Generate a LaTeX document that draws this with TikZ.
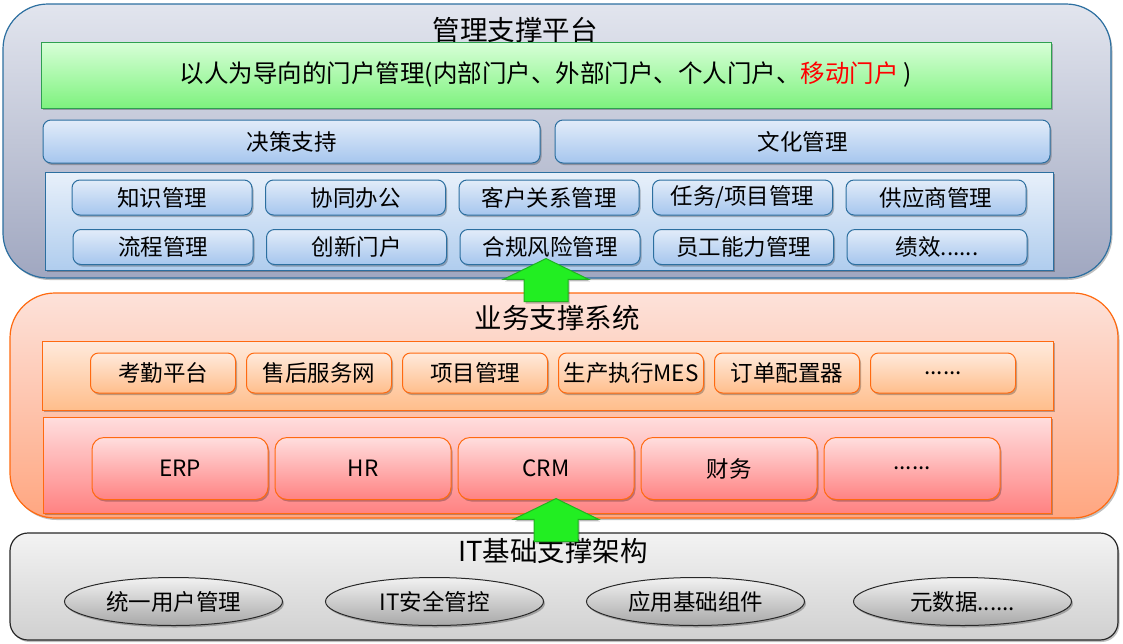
\documentclass[tikz,border=0pt]{standalone}
\usepackage{fontspec}
\setmainfont{Noto Sans CJK SC}
\usetikzlibrary{positioning,shapes.geometric,shapes.arrows,shadows}
\definecolor{platline}{RGB}{44,111,160}
\definecolor{plattop}{RGB}{226,229,238}
\definecolor{platbot}{RGB}{160,167,192}
\definecolor{portalline}{RGB}{46,160,80}
\definecolor{portaltop}{RGB}{216,255,216}
\definecolor{portalbot}{RGB}{126,242,126}
\definecolor{bluetop}{RGB}{226,236,249}
\definecolor{bluebot}{RGB}{166,198,238}
\definecolor{paneltop}{RGB}{232,240,250}
\definecolor{panelbot}{RGB}{176,205,238}
\definecolor{orangeline}{RGB}{255,106,16}
\definecolor{biztop}{RGB}{253,226,218}
\definecolor{bizbot}{RGB}{255,166,128}
\definecolor{peachtop}{RGB}{255,234,220}
\definecolor{peachbot}{RGB}{255,190,140}
\definecolor{pinktop}{RGB}{255,222,222}
\definecolor{pinkbot}{RGB}{255,130,130}
\definecolor{baseline}{RGB}{40,40,40}
\definecolor{basetop}{RGB}{243,243,243}
\definecolor{basebot}{RGB}{208,208,208}
\definecolor{elltop}{RGB}{242,242,242}
\definecolor{ellbot}{RGB}{168,168,168}
\definecolor{upfill}{RGB}{34,238,34}
\definecolor{upline}{RGB}{30,180,30}
\definecolor{warn}{RGB}{255,0,0}
\tikzset{
  every picture/.style={x=1pt, y=-1pt, line width=1pt},
  node distance=12pt,
  soft/.style={drop shadow={shadow xshift=1.5pt, shadow yshift=-2pt, opacity=.25, fill=black}},
  layer/.style={draw, soft, rounded corners=45pt, line width=1.2pt, inner sep=0pt},
  panel/.style={draw, soft, inner sep=0pt},
  box/.style={draw, soft, rounded corners=8pt, inner sep=0pt, align=center, font=\fontsize{22.5}{26}\selectfont},
  title/.style={inner sep=0pt, font=\fontsize{27.5}{30}\selectfont},
  plat/.style={layer, draw=platline, top color=plattop, bottom color=platbot},
  blueitem/.style={box, draw=platline, top color=bluetop, bottom color=bluebot},
  biz/.style={layer, draw=orangeline, top color=biztop, bottom color=bizbot},
  peachitem/.style={box, draw=orangeline, top color=peachtop, bottom color=peachbot, minimum width=145pt, minimum height=40pt},
  pinkitem/.style={box, draw=orangeline, top color=pinktop, bottom color=pinkbot, rounded corners=12pt, minimum width=176pt, minimum height=62pt},
  grayitem/.style={ellipse, draw=baseline, soft, top color=elltop, bottom color=ellbot, inner sep=0pt, minimum width=218pt, minimum height=48pt, font=\fontsize{22.5}{26}\selectfont},
  uparrow/.style={single arrow, rotate=90, draw=upline, fill=upfill, soft, anchor=tip, inner xsep=0pt, inner ysep=21.5pt,
    minimum height=43pt, minimum width=84pt, single arrow head extend=20.5pt, single arrow tip angle=128},
}

\begin{document}
\begin{tikzpicture}
  \useasboundingbox (0,0) rectangle (1123,643);
  % top layer: management platform
  \node[plat, minimum width=1108pt, minimum height=274pt] (mgmt) at (557,141) {};
  \node[title] (mgmtT) at (515,30) {管理支撑平台};
  \node[panel, draw=portalline, top color=portaltop, bottom color=portalbot, minimum width=1010pt, minimum height=66pt, font=\fontsize{24.5}{28}\selectfont] (portal) at (546,75) {以人为导向的门户管理(内部门户、外部门户、个人门户、{\color{warn}移动门户} )};
  \node[blueitem, minimum width=497pt, minimum height=43pt] (decide) at (291.5,141.5) {决策支持};
  \node[blueitem, minimum width=495pt, minimum height=43pt] (culture) at (802.5,141.5) {文化管理};
  \node[panel, draw=platline, top color=paneltop, bottom color=panelbot, minimum width=1008pt, minimum height=98pt] (apps) at (549,221) {};
  \begin{scope}[every node/.append style={blueitem, minimum width=180pt, minimum height=35pt}, node distance=12.5pt]
    \node (know) at (162,197.5) {知识管理};
    \node[right=of know] (collab) {协同办公};
    \node[right=of collab] (crmm) {客户关系管理};
    \node[right=of crmm] (task) {任务/项目管理};
    \node[right=of task] (supply) {供应商管理};
    \node (flow) at (163,247) {流程管理};
    \node[right=of flow] (innov) {创新门户};
    \node[right=of innov] (risk) {合规风险管理};
    \node[right=of risk] (skill) {员工能力管理};
    \node[right=of skill] (perf) {绩效......};
  \end{scope}

  % middle layer: business systems
  \node[biz, minimum width=1108pt, minimum height=225pt] (bizsys) at (564,405.5) {};
  \node[title] (bizT) at (557,318) {业务支撑系统};
  \node[panel, draw=orangeline, top color=peachtop, bottom color=peachbot, minimum width=1011pt, minimum height=69pt] (front) at (547.5,375.5) {};
  \node[peachitem] (attend) at (163,373) {考勤平台};
  \node[peachitem, right=10pt of attend] (service) {售后服务网};
  \node[peachitem, right=10pt of service] (proj) {项目管理};
  \node[peachitem, right=10pt of proj] (mes) {生产执行MES};
  \node[peachitem, right=10pt of mes] (order) {订单配置器};
  \node[peachitem, right=10pt of order] (more1) {......};
  \node[panel, draw=orangeline, top color=pinktop, bottom color=pinkbot, minimum width=1008pt, minimum height=96pt] (core) at (547,465) {};
  \node[pinkitem] (erp) at (180,468.5) {ERP};
  \node[pinkitem, right=6pt of erp] (hr) {HR};
  \node[pinkitem, right=6pt of hr] (crm) {CRM};
  \node[pinkitem, right=6pt of crm] (fin) {财务};
  \node[pinkitem, right=6pt of fin] (more2) {......};

  % bottom layer: IT infrastructure
  \node[layer, rounded corners=18pt, draw=baseline, top color=basetop, bottom color=basebot, minimum width=1108pt, minimum height=107pt] (infra) at (564,586.5) {};
  \node[title] (infraT) at (553,551) {IT基础支撑架构};
  \node[grayitem] (user) at (173.5,601.5) {统一用户管理};
  \node[grayitem, right=42pt of user] (sec) {IT安全管控};
  \node[grayitem, right=42pt of sec] (comp) {应用基础组件};
  \node[grayitem, right=48pt of comp] (meta) {元数据......};

  % support arrows
  \node[uparrow] (up1) at (546,258) {};
  \node[uparrow] (up2) at (556,498) {};
\end{tikzpicture}
\end{document}
